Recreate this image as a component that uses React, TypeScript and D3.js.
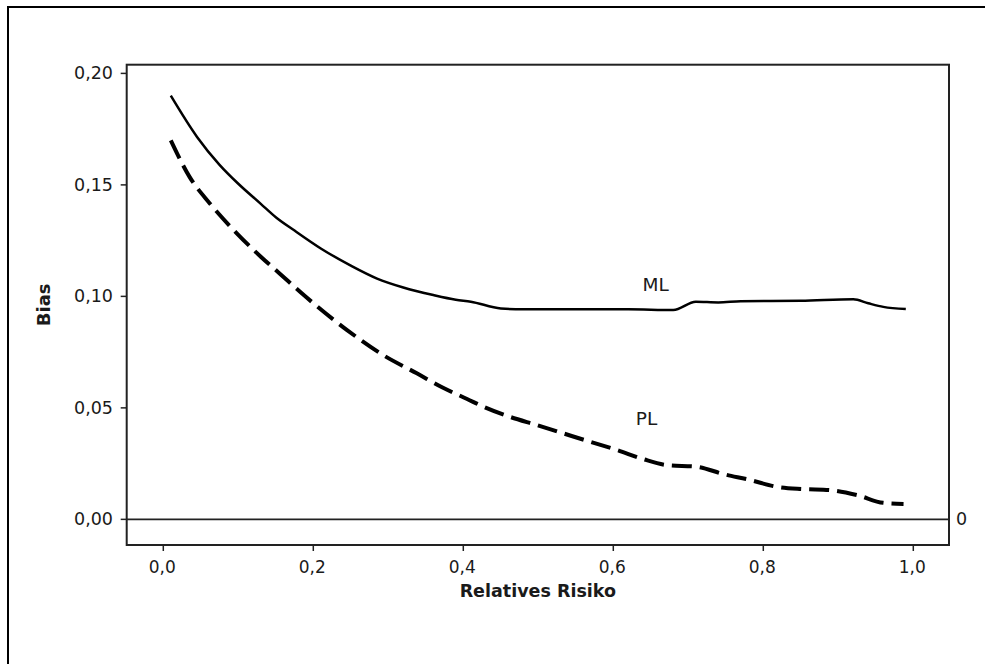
import React from "react";
import * as d3 from "d3";

const mlX = [0.01, 0.045, 0.075, 0.1, 0.13, 0.15, 0.175, 0.21, 0.25, 0.285, 0.32, 0.36, 0.39, 0.41, 0.45, 0.48, 0.55, 0.62, 0.68, 0.71, 0.74, 0.77, 0.85, 0.92, 0.94, 0.96, 0.99];
const mlY = [0.19, 0.1715, 0.159, 0.1505, 0.1415, 0.1355, 0.1295, 0.1215, 0.1138, 0.108, 0.104, 0.1006, 0.0985, 0.0976, 0.0946, 0.0942, 0.0942, 0.0942, 0.0939, 0.0976, 0.0973, 0.0978, 0.098, 0.0987, 0.0969, 0.0953, 0.0943];

const plX = [0.01, 0.035, 0.062, 0.098, 0.13, 0.155, 0.19, 0.245, 0.293, 0.338, 0.373, 0.405, 0.427, 0.462, 0.498, 0.533, 0.569, 0.605, 0.64, 0.672, 0.711, 0.747, 0.782, 0.818, 0.853, 0.889, 0.925, 0.96, 0.987];
const plY = [0.17, 0.1536, 0.1417, 0.1283, 0.1178, 0.1103, 0.0998, 0.0849, 0.0737, 0.0655, 0.059, 0.054, 0.0505, 0.046, 0.0423, 0.0386, 0.0348, 0.0311, 0.027, 0.0243, 0.0236, 0.0203, 0.0177, 0.0146, 0.0136, 0.0131, 0.0109, 0.0074, 0.0069];

const xTicks = [0, 0.2, 0.4, 0.6, 0.8, 1.0];
const xTickLabels = ["0,0", "0,2", "0,4", "0,6", "0,8", "1,0"];
const yTicks = [0, 0.05, 0.1, 0.15, 0.2];
const yTickLabels = ["0,00", "0,05", "0,10", "0,15", "0,20"];

const seriesLabels = [
  { name: "ML", x: 0.639, y: 0.1026 },
  { name: "PL", x: 0.63, y: 0.0425 },
];

export default function App() {
  const W = 985, H = 664;
  const left = 126.7, right = 949, top = 64.7, bottom = 545;
  const x = d3.scaleLinear().domain([-0.0488, 1.0476]).range([left, right]);
  const y = d3.scaleLinear().domain([-0.0115, 0.2039]).range([bottom, top]);
  const line = d3.line<[number, number]>().x(d => x(d[0])).y(d => y(d[1])).curve(d3.curveMonotoneX);
  const ml = mlX.map((v, i) => [v, mlY[i]] as [number, number]);
  const pl = plX.map((v, i) => [v, plY[i]] as [number, number]);
  const font = "DejaVu Sans, Verdana, sans-serif";
  const tc = "#1a1a1a";
  return (
    <svg width={W} height={H} style={{ position: "absolute", left: 0, top: 0, background: "#fff" }}>
      <rect x={0} y={0} width={W} height={H} fill="#fff" />
      <rect x={8} y={7} width={1200} height={900} fill="none" stroke="#000" strokeWidth={2} />
      <rect x={left} y={top} width={right - left} height={bottom - top} fill="none" stroke="#222" strokeWidth={2} />
      <line x1={left} x2={right} y1={y(0)} y2={y(0)} stroke="#222" strokeWidth={1.6} />
      {yTicks.map((t, i) => (
        <g key={"y" + i}>
          <line x1={left - 6} x2={left} y1={y(t)} y2={y(t)} stroke="#222" strokeWidth={1.5} />
          <text x={113} y={y(t) + 6} textAnchor="end" fontFamily={font} fontSize={17.5} fill={tc}>{yTickLabels[i]}</text>
        </g>
      ))}
      {xTicks.map((t, i) => (
        <g key={"x" + i}>
          <line x1={x(t)} x2={x(t)} y1={bottom} y2={bottom + 6} stroke="#222" strokeWidth={1.5} />
          <text x={x(t) - 1} y={573} textAnchor="middle" fontFamily={font} fontSize={17} fill={tc}>{xTickLabels[i]}</text>
        </g>
      ))}
      <text x={956} y={y(0) + 6} fontFamily={font} fontSize={17.5} fill={tc}>0</text>
      <path d={line(ml) || ""} fill="none" stroke="#000" strokeWidth={2.5} />
      <path d={line(pl) || ""} fill="none" stroke="#000" strokeWidth={4} strokeDasharray="20 8" />
      {seriesLabels.map(s => (
        <text key={s.name} x={x(s.x)} y={y(s.y)} fontFamily={font} fontSize={18.5} fill={tc}>{s.name}</text>
      ))}
      <text x={(left + right) / 2} y={597} textAnchor="middle" fontFamily={font} fontSize={17.5} fontWeight="bold" fill={tc}>Relatives Risiko</text>
      <text transform={`translate(50, ${(top + bottom) / 2}) rotate(-90)`} textAnchor="middle" fontFamily={font} fontSize={18} fontWeight="bold" fill={tc}>Bias</text>
    </svg>
  );
}
